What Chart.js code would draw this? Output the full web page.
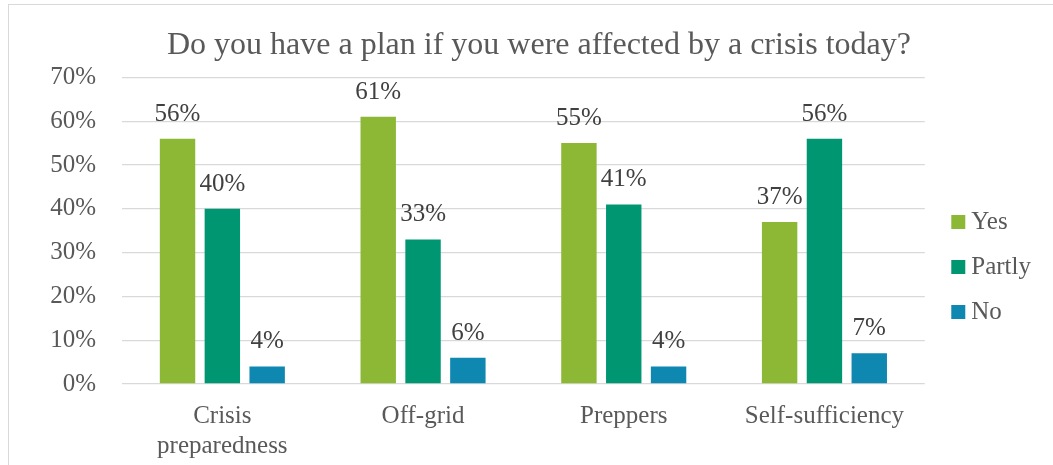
<!DOCTYPE html>
<html>
<head>
<meta charset="utf-8">
<script src="https://cdn.jsdelivr.net/npm/chart.js@4.4.0/dist/chart.umd.min.js"></script>
<style>
  body { margin: 0; background: #fff; overflow: hidden; }
  #frame { position: absolute; left: 8px; top: 4px; width: 1100px; height: 500px; border: 1px solid #d9d9d9; box-sizing: border-box; }
  #myChart { position: absolute; left: 0; top: 0; }
</style>
</head>
<body>
<div id="frame"></div>
<canvas id="myChart" width="1053" height="465"></canvas>
<script>
const categories = [['Crisis', 'preparedness'], 'Off-grid', 'Preppers', 'Self-sufficiency']
const yesValues = [56, 61, 55, 37]
const partlyValues = [40, 33, 41, 56]
const noValues = [4, 6, 4, 7]
const seriesNames = ['Yes', 'Partly', 'No']
const seriesColors = ['#8cb836', '#009672', '#0e87b1']

const FONT = 'Liberation Serif'
const TEXT_GREY = '#595959'

// writes the percentage over each bar
const valueLabels = {
  id: 'valueLabels',
  afterDatasetsDraw(chart) {
    var ctx = chart.ctx
    ctx.save()
    ctx.font = '25px "' + FONT + '"'
    ctx.fillStyle = '#404040'
    ctx.textAlign = 'center'
    ctx.textBaseline = 'alphabetic'
    chart.data.datasets.forEach(function (ds, i) {
      var meta = chart.getDatasetMeta(i)
      meta.data.forEach(function (bar, j) {
        ctx.fillText(ds.data[j] + '%', bar.x, bar.y - 18)
      })
    })
    ctx.restore()
  }
}

var values = [yesValues, partlyValues, noValues]
var datasets = []
for (var i = 0; i < seriesNames.length; i++) {
  datasets.push({
    label: seriesNames[i],
    data: values[i],
    backgroundColor: seriesColors[i],
    borderWidth: 0,
    categoryPercentage: 0.67,
    barPercentage: 0.79
  })
}

var ctx = document.getElementById('myChart').getContext('2d')
var myChart = new Chart(ctx, {
  type: 'bar',
  data: { labels: categories, datasets: datasets },
  plugins: [valueLabels],
  options: {
    responsive: false,
    animation: false,
    layout: { padding: { left: 37, right: 12, top: 0, bottom: 4 } },
    plugins: {
      title: {
        display: true,
        text: 'Do you have a plan if you were affected by a crisis today?',
        color: TEXT_GREY,
        font: { family: FONT, size: 32, weight: 'normal' },
        padding: { top: 26, bottom: 13 }
      },
      legend: {
        position: 'right',
        // empty title only pushes the items down
        title: { display: true, text: '', font: { size: 13, lineHeight: 1 }, padding: { top: 60, bottom: 0 } },
        labels: {
          color: TEXT_GREY,
          font: { family: FONT, size: 25 },
          usePointStyle: true,
          pointStyle: 'rect',
          boxWidth: 1,
          boxHeight: 14,
          padding: 20
        }
      },
      tooltip: { enabled: false }
    },
    scales: {
      x: {
        grid: { display: false, drawTicks: false },
        border: { display: false },
        ticks: { color: TEXT_GREY, font: { family: FONT, size: 25 }, padding: 17 },
        afterFit: function (scale) { scale.height = 77 }
      },
      y: {
        min: 0,
        max: 70,
        grid: { color: '#d9d9d9', lineWidth: 1.3, drawTicks: false },
        border: { display: false },
        ticks: {
          stepSize: 10,
          color: TEXT_GREY,
          font: { family: FONT, size: 25 },
          padding: 26,
          callback: function (v) { return v + '%' }
        },
        afterFit: function (scale) { scale.width = 85 }
      },
      // spacer between plot and legend
      gap: {
        position: 'right',
        display: true,
        grid: { display: false },
        border: { display: false },
        ticks: { display: false },
        afterFit: function (scale) { scale.width = 13 }
      }
    }
  }
})
</script>
</body>
</html>
